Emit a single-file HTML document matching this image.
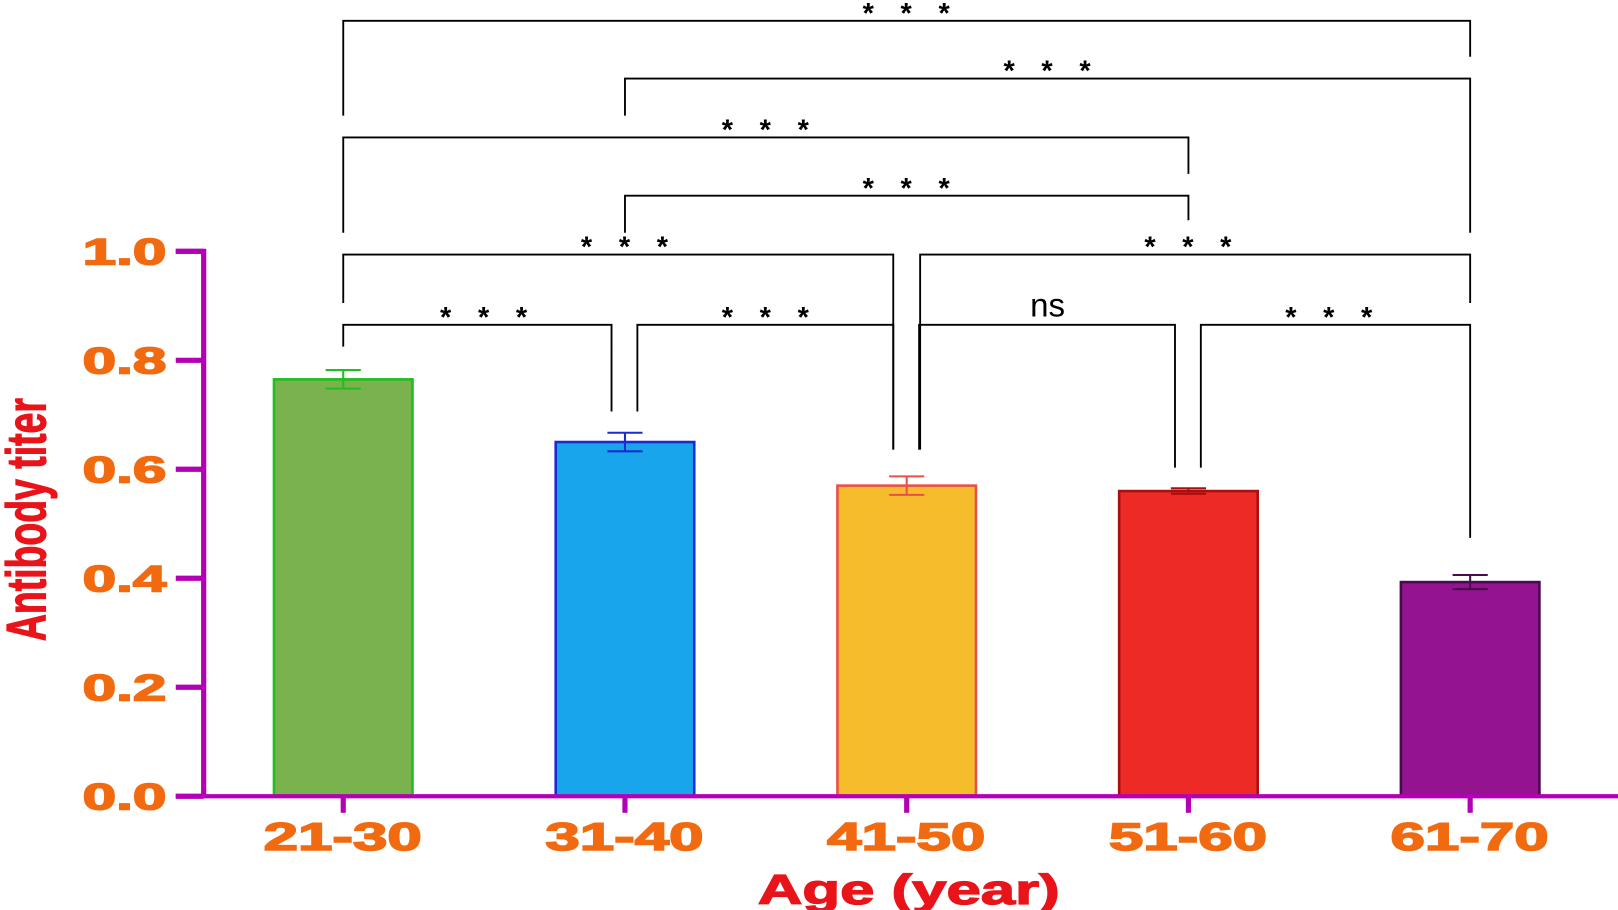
<!DOCTYPE html>
<html><head><meta charset="utf-8"><style>
html,body{margin:0;padding:0;background:#fff;}
svg{display:block;}
</style></head><body>
<svg id="chart" width="1618" height="910" viewBox="0 0 1565 880" preserveAspectRatio="none" xmlns="http://www.w3.org/2000/svg"></svg>
<script>
const categories = ["21-30", "31-40", "41-50", "51-60", "61-70"];
const values = [0.765, 0.650, 0.570, 0.560, 0.393];
const errors = [0.017, 0.017, 0.017, 0.005, 0.013];
const yTicks = [0, 0.2, 0.4, 0.6, 0.8, 1.0];
const yTickLabels = ["0.0", "0.2", "0.4", "0.6", "0.8", "1.0"];
// brackets: [fromIndex, toIndex, levelValue, leftDropValue, rightDropValue, label]
const brackets = [
  [0, 4, 1.423, 1.249, 1.357, "* * *"],
  [1, 4, 1.317, 1.249, 1.034, "* * *"],
  [0, 3, 1.209, 1.034, 1.142, "* * *"],
  [1, 3, 1.102, 1.034, 1.057, "* * *"],
  [0, 2, 0.994, 0.905, 0.636, "* * *"],
  [2, 4, 0.994, 0.636, 0.905, "* * *"],
  [0, 1, 0.865, 0.825, 0.706, "* * *"],
  [1, 2, 0.865, 0.706, 0.636, "* * *"],
  [2, 3, 0.865, 0.636, 0.603, "ns"],
  [3, 4, 0.865, 0.603, 0.474, "* * *"]
];
const fills = ["#7ab24e", "#19a5eb", "#f5bd2c", "#ee2a27", "#941490"];
const strokes = ["#1fbf1f", "#1a2bd0", "#e8504a", "#a81010", "#4a0a50"];

const svg = document.getElementById('chart');
const NS = "http://www.w3.org/2000/svg";
const y0 = 770, yPerUnit = 527;
function yScale(v){ return y0 - yPerUnit * v; }
function xScale(i){ return 332 + i * 272.5; }
function mk(tag, attrs){ const e = document.createElementNS(NS, tag); for (const k in attrs) e.setAttribute(k, attrs[k]); svg.appendChild(e); return e; }

categories.forEach((c, i) => {
  const cx = xScale(i), bw = 134;
  const r = mk('rect', {x: cx - bw/2, y: yScale(values[i]), width: bw, height: yScale(0) - yScale(values[i]), fill: fills[i], stroke: strokes[i], 'stroke-width': 2.5});
  
  
  const hi = yScale(values[i] + errors[i]), lo = yScale(values[i] - errors[i]);
  const eb = mk('path', {d: `M${cx-17},${hi}H${cx+17}M${cx},${hi}V${lo}M${cx-17},${lo}H${cx+17}`, stroke: strokes[i], 'stroke-width': 2, fill: 'none'});
  
  
});

const ya = mk('path', {d: `M170,${yScale(1)}H197V${y0+1}`, stroke: '#b400b4', 'stroke-width': 5, fill: 'none'});


const xa = mk('line', {x1: 170, y1: y0, x2: 1565, y2: y0, stroke: '#b400b4', 'stroke-width': 4});



yTicks.forEach((t, i) => {
  const y = yScale(t);
  const tk = mk('line', {x1: 170, y1: y, x2: 197, y2: y, stroke: '#b400b4', 'stroke-width': 5});
  
  
  const tl = mk('text', {x: 80, y: y + 13, 'font-family': 'Liberation Sans, sans-serif', 'font-weight': 'bold', 'font-size': 36, fill: '#f26a10', stroke: '#f26a10', 'stroke-width': 1.5, textLength: 81, lengthAdjust: 'spacingAndGlyphs'});
  tl.textContent = yTickLabels[i];
  
  
});

categories.forEach((c, i) => {
  const cx = xScale(i);
  const tk = mk('line', {x1: cx, y1: y0, x2: cx, y2: 786, stroke: '#b400b4', 'stroke-width': 5});
  
  
  const tl = mk('text', {x: cx - 77, y: 822, 'font-family': 'Liberation Sans, sans-serif', 'font-weight': 'bold', 'font-size': 38, fill: '#f26a10', stroke: '#f26a10', 'stroke-width': 1.5, textLength: 153, lengthAdjust: 'spacingAndGlyphs'});
  tl.textContent = c;
  
  
});

brackets.forEach(b => {
  const [a, c, lv, ld, rd, lab] = b;
  let xl = xScale(a), xr = xScale(c);
  if (lv < 0.9) { if (a > 0) xl += 12; if (c < 4) xr -= 13; }
  if (lv > 0.95 && lv < 1.0) { if (a === 2) xl += 13; if (c === 2) xr -= 13; }
  const p = mk('path', {d: `M${xl},${yScale(ld)}V${yScale(lv)}H${xr}V${yScale(rd)}`, stroke: '#000', 'stroke-width': 1.8, fill: 'none'});
  
  
  const mid = (xScale(a) + xScale(c)) / 2;
  const isNs = lab === 'ns';
  const t = mk('text', {x: mid + (isNs ? 0 : 4), y: yScale(lv) + (isNs ? -8 : 2), 'text-anchor': 'middle', 'font-family': 'Liberation Sans, sans-serif', 'font-weight': isNs ? 'normal' : 'bold', 'font-size': isNs ? 32 : 28, fill: '#000', 'letter-spacing': isNs ? 0 : 9});
  t.textContent = lab;
  
  
});

const xt = mk('text', {x: 733, y: 874, 'font-family': 'Liberation Sans, sans-serif', 'font-weight': 'bold', 'font-size': 40, fill: '#e8141a', stroke: '#e8141a', 'stroke-width': 1.2, textLength: 292, lengthAdjust: 'spacingAndGlyphs'});
xt.textContent = 'Age (year)';


const yt = mk('text', {x: 0, y: 0, transform: 'translate(44,620) rotate(-90)', 'font-family': 'Liberation Sans, sans-serif', 'font-weight': 'bold', 'font-size': 54, fill: '#e8141a', stroke: '#e8141a', 'stroke-width': 1.2, textLength: 235, lengthAdjust: 'spacingAndGlyphs'});
yt.textContent = 'Antibody titer';


</script>
</body></html>
